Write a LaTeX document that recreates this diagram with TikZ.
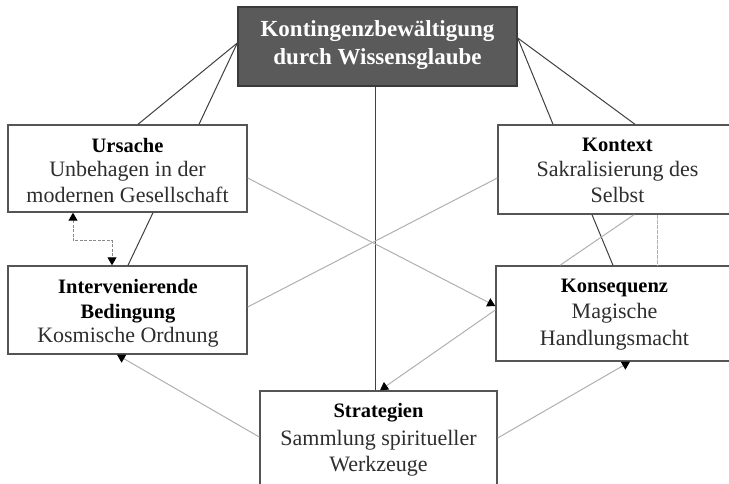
\documentclass[tikz,border=0pt]{standalone}
\usepackage{fontspec}
\setmainfont{Liberation Serif}
\usetikzlibrary{arrows.meta}
\definecolor{boxline}{HTML}{555555}
\definecolor{topfill}{HTML}{5A5A5A}
\definecolor{topline}{HTML}{3A3A3A}
\definecolor{darkline}{HTML}{404040}
\definecolor{lightline}{HTML}{B0B0B0}
\definecolor{dashline}{HTML}{8A8A8A}
\definecolor{bodytext}{HTML}{2E2E2E}
\tikzset{
  box/.style={draw=boxline, line width=1.4pt, fill=white, inner sep=0pt},
  topbox/.style={draw=topline, line width=1.4pt, fill=topfill, inner sep=0pt},
  headtxt/.style={anchor=base, inner sep=0pt, text=black, font=\fontsize{20.5}{24}\selectfont\bfseries},
  bodytxt/.style={anchor=base, inner sep=0pt, text=bodytext, font=\fontsize{22}{26}\selectfont},
  toptxt/.style={anchor=base, inner sep=0pt, text=white, font=\fontsize{23}{28}\selectfont\bfseries},
  darkconn/.style={draw=darkline, line width=1pt},
  lightconn/.style={draw=lightline, line width=1pt},
  arr/.style={-{Triangle[length=8pt,width=9pt,color=black]}},
  dotconn/.style={draw=dashline, line width=0.9pt, dash pattern=on 3pt off 1.5pt},
}
\begin{document}
\begin{tikzpicture}[x=1pt,y=-1pt]
\useasboundingbox (0,0) rectangle (729,484);
\clip (0,0) rectangle (729,484);
\fill[white] (0,0) rectangle (729,484);

% boxes
\node[topbox, minimum width=279pt, minimum height=79pt] (top) at (377.5,46.5) {};
\node[box, minimum width=239pt, minimum height=87pt] (ursache) at (127.5,168.5) {};
\node[box, minimum width=239pt, minimum height=89pt] (kontext) at (617.5,169.5) {};
\node[box, minimum width=239pt, minimum height=88pt] (interv) at (127.5,310) {};
\node[box, minimum width=237pt, minimum height=95pt] (konseq) at (614.5,313.5) {};
\node[box, minimum width=237pt, minimum height=100pt] (strat) at (378.5,441) {};

% texts
\node[toptxt] (t1) at (377.5,37) {Kontingenzbewältigung};
\node[toptxt] (t2) at (377.5,65) {durch Wissensglaube};

\node[headtxt] (u1) at (127.5,153) {Ursache};
\node[bodytxt] (u2) at (127.5,177) {Unbehagen in der};
\node[bodytxt] (u3) at (127.5,203) {modernen Gesellschaft};

\node[headtxt] (k1) at (617.5,152) {Kontext};
\node[bodytxt] (k2) at (617.5,177) {Sakralisierung des};
\node[bodytxt] (k3) at (617.5,203) {Selbst};

\node[headtxt] (i1) at (128,293) {Intervenierende};
\node[headtxt] (i2) at (128,318) {Bedingung};
\node[bodytxt] (i3) at (128,342) {Kosmische Ordnung};

\node[headtxt] (q1) at (614.5,292) {Konsequenz};
\node[bodytxt] (q2) at (614.5,318) {Magische};
\node[bodytxt] (q3) at (614.5,345) {Handlungsmacht};

\node[headtxt] (s1) at (378.5,417) {Strategien};
\node[bodytxt] (s2) at (378.5,445) {Sammlung spiritueller};
\node[bodytxt] (s3) at (378.5,471) {Werkzeuge};

% dark connectors
\draw[darkconn] ([yshift=3.5pt]top.west) -- ([xshift=10.5pt]ursache.north);
\draw[darkconn] ([yshift=3.5pt]top.west) -- ([xshift=71.5pt]ursache.north);
\draw[darkconn] ([yshift=8.5pt]top.east) -- ([xshift=-64.5pt]kontext.north);
\draw[darkconn] ([yshift=8.5pt]top.east) -- ([xshift=17.5pt]kontext.north);
\draw[darkconn] ([xshift=-2.5pt]top.south) -- ([xshift=-3.5pt]strat.north);
\draw[darkconn] ([xshift=25.5pt]ursache.south) -- ([xshift=0.5pt]interv.north);
\draw[darkconn] ([xshift=-25.5pt]kontext.south) -- ([xshift=-1.5pt]konseq.north);

% light connectors
\draw[lightconn] ([xshift=16.5pt]kontext.south) -- ([xshift=-54.5pt]konseq.north);
\draw[lightconn, dash pattern=on 4pt off 1pt] ([xshift=39.5pt]kontext.south) -- ([xshift=42.5pt]konseq.north);
\draw[lightconn] ([yshift=3pt]interv.east) -- ([yshift=-8.5pt]kontext.west);
\draw[lightconn, arr] ([yshift=-9.5pt]ursache.east) -- ([yshift=7.5pt]konseq.west);
\draw[lightconn, arr] ([yshift=3.5pt]konseq.west) -- ([xshift=1.5pt]strat.north);
\draw[lightconn, arr] ([yshift=4pt]strat.west) -- ([xshift=-10.5pt]interv.south);
\draw[lightconn, arr] ([yshift=3pt]strat.east) -- ([xshift=15.5pt]konseq.south);

% dotted elbow double arrow
\draw[dotconn, {Triangle[length=8pt,width=9pt,color=black]}-{Triangle[length=8pt,width=9pt,color=black]}]
  ([xshift=-54.5pt]ursache.south) -- ++(0,28) -| ([xshift=-15.5pt]interv.north);
\end{tikzpicture}
\end{document}
